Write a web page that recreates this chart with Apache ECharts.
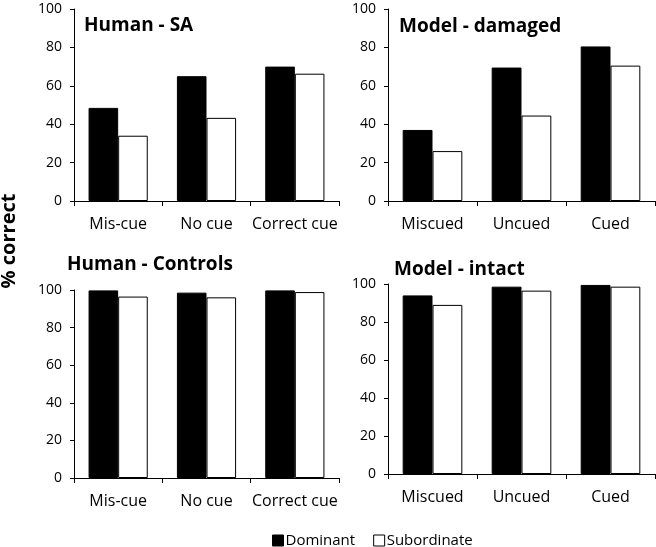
<!DOCTYPE html>
<html>
<head>
<meta charset="utf-8">
<script src="https://cdn.jsdelivr.net/npm/echarts@6/dist/echarts.min.js"></script>
<style>html,body{margin:0;padding:0;background:#fff;}#c{width:656px;height:547px;}</style>
</head>
<body>
<div id="c"></div>
<script>
const categoriesHuman = ['Mis-cue', 'No cue', 'Correct cue'];
const categoriesModel = ['Miscued', 'Uncued', 'Cued'];
const seriesNames = ['Dominant', 'Subordinate'];
const panelTitles = ['Human - SA', 'Model - damaged', 'Human - Controls', 'Model - intact'];
const humanSADominant = [48.5, 65, 70];
const humanSASubordinate = [34, 43.3, 66.3];
const modelDamagedDominant = [37, 69.5, 80.5];
const modelDamagedSubordinate = [26, 44.5, 70.5];
const humanControlsDominant = [99.8, 98.6, 99.8];
const humanControlsSubordinate = [96.5, 96.1, 98.9];
const modelIntactDominant = [94, 98.6, 99.5];
const modelIntactSubordinate = [89, 96.5, 98.6];
const yMin = 0, yMax = 100, yStep = 20;
const yAxisLabel = '% correct';

const FONT = 'Open Sans';
const chart = echarts.init(document.getElementById('c'), null, {renderer: 'canvas'});

const grids = [
  {left: 74, top: 9, width: 265, height: 192},
  {left: 388, top: 9, width: 267, height: 192},
  {left: 74, top: 290, width: 265, height: 188},
  {left: 388, top: 284, width: 267, height: 190}
];
const cats = [categoriesHuman, categoriesModel, categoriesHuman, categoriesModel];
const dataDom = [humanSADominant, modelDamagedDominant, humanControlsDominant, modelIntactDominant];
const dataSub = [humanSASubordinate, modelDamagedSubordinate, humanControlsSubordinate, modelIntactSubordinate];
const titlePos = [
  {left: 84, top: 16}, {left: 399, top: 17}, {left: 67, top: 255}, {left: 394, top: 260}
];

const xAxes = [], yAxes = [], series = [], titles = [];
for (let i = 0; i < 4; i++) {
  xAxes.push({
    type: 'category', gridIndex: i, data: cats[i],
    axisLine: {lineStyle: {color: '#000', width: 1}},
    axisTick: {show: true, length: 5, lineStyle: {color: '#000'}},
    axisLabel: {color: '#000', fontSize: 16, fontFamily: FONT, margin: 15, interval: 0}
  });
  yAxes.push({
    type: 'value', gridIndex: i, min: yMin, max: yMax, interval: yStep,
    axisLine: {show: true, lineStyle: {color: '#000', width: 1}},
    axisTick: {show: true, length: 4, lineStyle: {color: '#000'}},
    splitLine: {show: false},
    axisLabel: {color: '#000', fontSize: 14, fontFamily: FONT, margin: 12}
  });
  series.push({
    type: 'bar', name: seriesNames[0], xAxisIndex: i, yAxisIndex: i, data: dataDom[i],
    barGap: '0%', barCategoryGap: '33%',
    itemStyle: {color: '#000', borderColor: '#000', borderWidth: 1}
  });
  series.push({
    type: 'bar', name: seriesNames[1], xAxisIndex: i, yAxisIndex: i, data: dataSub[i],
    barGap: '0%', barCategoryGap: '33%',
    itemStyle: {color: '#fff', borderColor: '#000', borderWidth: 1}
  });
  titles.push({
    text: panelTitles[i], left: titlePos[i].left, top: titlePos[i].top, padding: 0,
    textStyle: {fontFamily: FONT, fontWeight: 'bold', fontSize: 19, lineHeight: 19, color: '#000'}
  });
}

chart.setOption({
  animation: false,
  backgroundColor: '#fff',
  title: titles,
  grid: grids,
  xAxis: xAxes,
  yAxis: yAxes,
  series: series,
  legend: {
    data: [
      {name: seriesNames[0], itemStyle: {color: '#000', borderColor: '#000', borderWidth: 1}},
      {name: seriesNames[1], itemStyle: {color: '#fff', borderColor: '#000', borderWidth: 1}}
    ],
    left: 272, top: 533, padding: 0,
    icon: 'rect', itemWidth: 11, itemHeight: 11, itemGap: 18,
    selectedMode: false,
    textStyle: {fontFamily: FONT, fontSize: 15, color: '#000', padding: [0, 0, 0, -3]}
  },
  graphic: [{
    type: 'text', x: 9, y: 241, rotation: Math.PI / 2,
    style: {text: yAxisLabel, font: 'bold 20px "Open Sans"', fill: '#000', textAlign: 'center', textVerticalAlign: 'middle'}
  }]
});
</script>
</body>
</html>
